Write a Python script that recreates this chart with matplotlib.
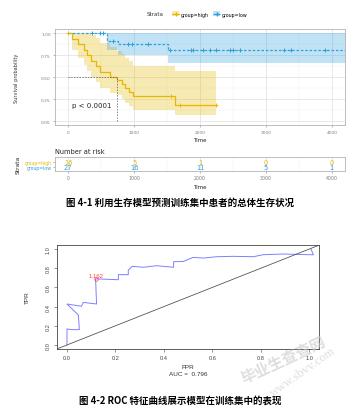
import numpy as np
import matplotlib
matplotlib.use("Agg")
import matplotlib.pyplot as plt
from matplotlib.patches import Patch
from matplotlib.lines import Line2D

plt.rcParams["font.family"] = ["DejaVu Sans", "Noto Sans CJK SC"]

W, H = 354, 410
YEL = "#E7B800"
BLU = "#2E9FDF"

# ---- survival data ----
high_time = [0, 61, 147, 238, 288, 339, 415, 490, 642, 744, 810, 865, 922, 990, 1624, 2246]
high_surv = [1, .9375, .875, .8125, .75, .6875, .625, .5625, .5, .47, .42, .375, .33, .28, .185, .185]
high_upper = [1, 1, 1, 1, 1, .98, .94, .89, .84, .80, .76, .72, .68, .63, .57, .57]
high_lower = [1, .81, .72, .64, .57, .50, .44, .38, .32, .29, .25, .21, .17, .13, .07, .07]
high_censor = [0, 1558, 1690, 2246]

low_time = [0, 590, 759, 1517, 4300]
low_surv = [1, .91, .87, .81, .81]
low_upper = [1, 1, 1, 1, 1]
low_lower = [1, .81, .745, .66, .66]
low_censor = [360, 486, 522, 680, 915, 970, 1208, 1538, 1857, 1898, 2050, 2156, 2250,
              2455, 2506, 2602, 3275, 3377, 3895]

median_high = 744
risk_times = [0, 1000, 2000, 3000, 4000]
risk_high = [16, 5, 1, 0, 0]
risk_low = [27, 16, 11, 5, 1]

# ---- ROC data ----
roc_fpr = [0, 0, .019, .051, .047, 0, .06, .067, .122, .118, .136, .212, .212, .253, .253,
           .27, .315, .37, .44, .44, .48, .52, .563, .618, .686, .769, .81, .893, 1.017, 1.007]
roc_tpr = [0, .167, .16, .16, .3125, .427, .403, .444, .427, .69, .6875, .68, .733, .733, .78,
           .82, .81, .826, .81, .868, .87, .913, .906, .92, .924, .92, .941, .948, .94, 1.0]
best_fpr, best_tpr, best_label = .118, .69, "1.162"
auc = 0.796


def box(l, t, r, b):
    return [l / W, 1 - b / H, (r - l) / W, (b - t) / H]


def surv_at(times, surv, t):
    return surv[np.searchsorted(times, t, side="right") - 1]


fig = plt.figure(figsize=(W / 100, H / 100), dpi=100)

# ---------------- KM plot ----------------
ax = fig.add_axes(box(55, 29.6, 345, 126.4))
ax.set_xlim(-200, 4200)
ax.set_ylim(-0.05, 1.05)
for s in ax.spines.values():
    s.set_color("#b3b3b3")
    s.set_linewidth(0.6)
ax.set_xticks(risk_times)
ax.set_yticks([0, .25, .5, .75, 1])
ax.set_yticklabels(["0.00", "0.25", "0.50", "0.75", "1.00"])
ax.set_xticks([500, 1500, 2500, 3500], minor=True)
ax.set_yticks([.125, .375, .625, .875], minor=True)
ax.grid(which="major", color="#dedede", lw=0.5)
ax.grid(which="minor", color="#eeeeee", lw=0.3)
ax.set_axisbelow(True)
ax.tick_params(labelsize=3.2, colors="#7f7f7f", length=1.5, width=0.4, pad=1.5)
ax.tick_params(which="minor", length=0)

ax.fill_between(high_time, high_lower, high_upper, step="post", color=YEL, alpha=0.3, lw=0)
ax.fill_between(low_time, low_lower, low_upper, step="post", color=BLU, alpha=0.3, lw=0)
ax.step(high_time, high_surv, where="post", color=YEL, lw=0.9)
ax.step(low_time, low_surv, where="post", color=BLU, lw=0.9, ls=(0, (2, 1.5)))
ax.plot(high_censor, [surv_at(high_time, high_surv, t) for t in high_censor], "+",
        color=YEL, ms=3.5, mew=0.7)
ax.plot(low_censor, [surv_at(low_time, low_surv, t) for t in low_censor], "+",
        color=BLU, ms=3.5, mew=0.7)
ax.plot([0, median_high], [.5, .5], ls=(0, (2, 2)), color="#555555", lw=0.5)
ax.plot([median_high, median_high], [0, .5], ls=(0, (2, 2)), color="#555555", lw=0.5)
ax.text(365, .18, "p < 0.0001", fontsize=5, ha="center", va="center", color="#222222")

ax.set_ylabel("Survival probability", fontsize=3.6, color="#333333")
ax.yaxis.set_label_coords(-0.124, 0.5)
ax.set_xlabel("Time", fontsize=4, color="#222222")
ax.xaxis.set_label_coords(0.5, -0.12)

# legend
fig.text(147 / W, 1 - 15 / H, "Strata", fontsize=4, ha="left", va="center", color="#333333")
handles = [(Patch(fc=YEL, alpha=0.3, lw=0), Line2D([], [], color=YEL, marker="+", lw=0.8, ms=3)),
           (Patch(fc=BLU, alpha=0.3, lw=0), Line2D([], [], color=BLU, marker="+", lw=0.8, ms=3, ls="--"))]
fig.legend(handles, ["group=high", "group=low"], ncol=2, loc="center",
           bbox_to_anchor=(210 / W, 1 - 15 / H), frameon=False, fontsize=3.4,
           handlelength=1.5, handleheight=1.2, columnspacing=0.8, handletextpad=0.4)

# ---------------- risk table ----------------
fig.text(55 / W, 1 - 152 / H, "Number at risk", fontsize=4.8, ha="left", va="center", color="#222222")
rt = fig.add_axes(box(55, 158, 345, 172))
rt.set_xlim(-200, 4200)
rt.set_ylim(-1.0, 2.2)
for s in rt.spines.values():
    s.set_color("#b3b3b3")
    s.set_linewidth(0.6)
rt.set_xticks(risk_times)
rt.set_xticks([500, 1500, 2500, 3500], minor=True)
rt.grid(which="major", axis="x", color="#dedede", lw=0.5)
rt.grid(which="minor", axis="x", color="#eeeeee", lw=0.3)
rt.set_yticks([1, 0])
rt.set_yticklabels(["group=high", "group=low"])
rt.tick_params(axis="y", labelsize=3.3, length=1.5, width=0.4, pad=1, colors="#7f7f7f")
for lab, c in zip(rt.get_yticklabels(), [YEL, BLU]):
    lab.set_color(c)
rt.tick_params(axis="x", labelsize=3.4, colors="#7f7f7f", length=1.5, width=0.4, pad=1.5)
rt.tick_params(which="minor", length=0)
for t, a, b in zip(risk_times, risk_high, risk_low):
    rt.text(t, 1.05, str(a), color=YEL, fontsize=4.8, ha="center", va="center")
    rt.text(t, -0.05, str(b), color=BLU, fontsize=4.8, ha="center", va="center")
rt.set_xlabel("Time", fontsize=4, color="#222222")
rt.xaxis.set_label_coords(0.5, -0.95)
fig.text(18 / W, 1 - 165 / H, "Strata", fontsize=4.3, rotation=90, ha="center", va="center",
         color="#222222")

fig.text(180 / W, 1 - 203 / H, "图 4-1 利用生存模型预测训练集中患者的总体生存状况",
         family=["Noto Sans CJK SC"], fontsize=6.8, fontweight="bold", ha="center", va="center")

# ---------------- ROC ----------------
rc = fig.add_axes(box(57.3, 246.2, 319, 349.8))
rc.set_xlim(-0.04, 1.04)
rc.set_ylim(-0.04, 1.04)
rc.plot(roc_fpr, roc_tpr, color="#7f7fff", lw=0.7)
rc.plot([-0.1, 1.1], [-0.1, 1.1], color="#555555", lw=0.6)
rc.plot(best_fpr, best_tpr, "o", mfc="none", mec="#ff4040", ms=2.5, mew=0.5)
rc.text(best_fpr, best_tpr + 0.035, best_label, color="#ff4040", fontsize=4.3,
        family="Liberation Sans", ha="center", va="center")
for s in rc.spines.values():
    s.set_color("#444444")
    s.set_linewidth(0.6)
ticks = [0, .2, .4, .6, .8, 1]
rc.set_xticks(ticks)
rc.set_yticks(ticks)
rc.set_xticklabels(["0.0", "0.2", "0.4", "0.6", "0.8", "1.0"], family="Liberation Sans")
rc.set_yticklabels(["0.0", "0.2", "0.4", "0.6", "0.8", "1.0"], family="Liberation Sans",
                   rotation=90, va="center")
rc.tick_params(labelsize=4.1, length=2.5, width=0.4, colors="#444444", pad=2)
rc.set_ylabel("TPR", fontsize=4.6, family="Liberation Sans", color="#333333")
rc.yaxis.set_label_coords(-0.105, 0.5)
rc.set_xlabel("FPR\nAUC =  0.796", fontsize=4.6, family="Liberation Sans", color="#333333",
              linespacing=1.5)
rc.xaxis.set_label_coords(0.5, -0.15)

# watermark
fig.text(283 / W, 1 - 360 / H, "毕业生查查网", family=["Noto Sans CJK SC"], fontsize=11,
         rotation=25, color="#c8c8c8", alpha=0.6, ha="center", va="center", fontweight="bold")
fig.text(303 / W, 1 - 372 / H, "www.sbvv.com", family="Liberation Serif", fontsize=9,
         rotation=35, color="#c8c8c8", alpha=0.6, ha="center", va="center")

fig.text(180 / W, 1 - 401 / H, "图 4-2 ROC 特征曲线展示模型在训练集中的表现",
         family=["Noto Sans CJK SC"], fontsize=6.8, fontweight="bold", ha="center", va="center")

fig.savefig("out.png", dpi=100)
